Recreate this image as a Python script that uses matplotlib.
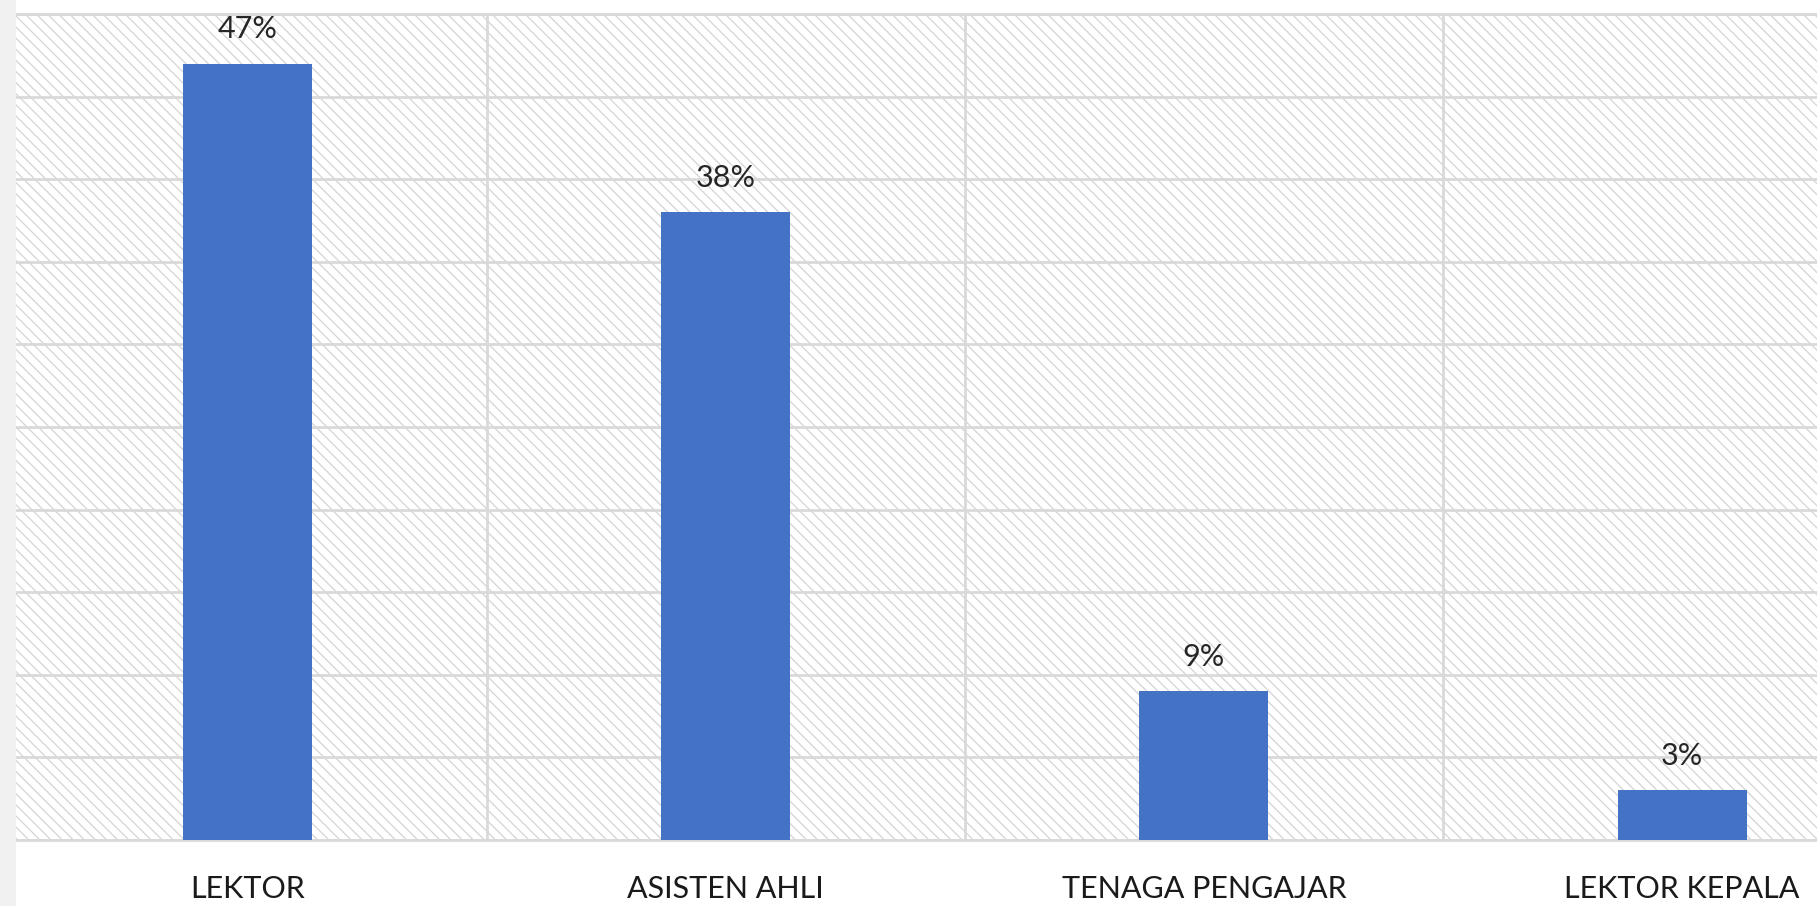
import matplotlib.pyplot as plt
from matplotlib.patches import Rectangle

plt.rcParams['font.family'] = ['Lato', 'DejaVu Sans']
plt.rcParams['hatch.color'] = '#d4d4d4'
plt.rcParams['hatch.linewidth'] = 0.9

## data
categories = ["LEKTOR", "ASISTEN AHLI", "TENAGA PENGAJAR", "LEKTOR KEPALA"]
shares = [0.47, 0.38, 0.09, 0.03]
share_labels = ["47%", "38%", "9%", "3%"]

fig = plt.figure(figsize=(18.17, 9.06), dpi=100)
# light grey strip down the left edge
fig.patches.append(Rectangle((0, 0), 16 / 1817, 1, transform=fig.transFigure,
                             facecolor='#f1f1f1', edgecolor='none', zorder=0))

ax = fig.add_axes([16 / 1817, 66 / 906, 1 - 16 / 1817, 826 / 906])

# hatched plot area
ax.add_patch(Rectangle((0, 0), 1, 1, transform=ax.transAxes, facecolor='white',
                       edgecolor='#d4d4d4', hatch='\\\\\\', lw=0, zorder=0))

x = range(len(categories))
ax.bar(x, shares, width=0.27, color='#4472c4', zorder=3)

for i, (v, lab) in enumerate(zip(shares, share_labels)):
    ax.annotate(lab, (i, v), xytext=(0, 25), textcoords='offset points',
                ha='center', va='center', fontsize=22, color='#262626', zorder=4)

ax.set_xlim(-0.484, 3.282)
ax.set_ylim(0, 0.5)
ax.set_yticks([i * 0.05 for i in range(11)])
ax.set_yticklabels([])
ax.set_xticks(list(x))
ax.set_xticklabels(categories, fontsize=22, color='#1a1a1a')
ax.set_xticks([0.5, 1.5, 2.5], minor=True)
ax.tick_params(axis='both', which='both', length=0, pad=25)

ax.grid(axis='y', which='major', color='#d9d9d9', lw=2, zorder=1)
ax.grid(axis='x', which='minor', color='#d9d9d9', lw=2, zorder=1)
ax.grid(axis='x', which='major', visible=False)

for side in ['left', 'right']:
    ax.spines[side].set_visible(False)
for side in ['top', 'bottom']:
    ax.spines[side].set_color('#d9d9d9')
    ax.spines[side].set_linewidth(2)

fig.savefig('out.png', dpi=100)
